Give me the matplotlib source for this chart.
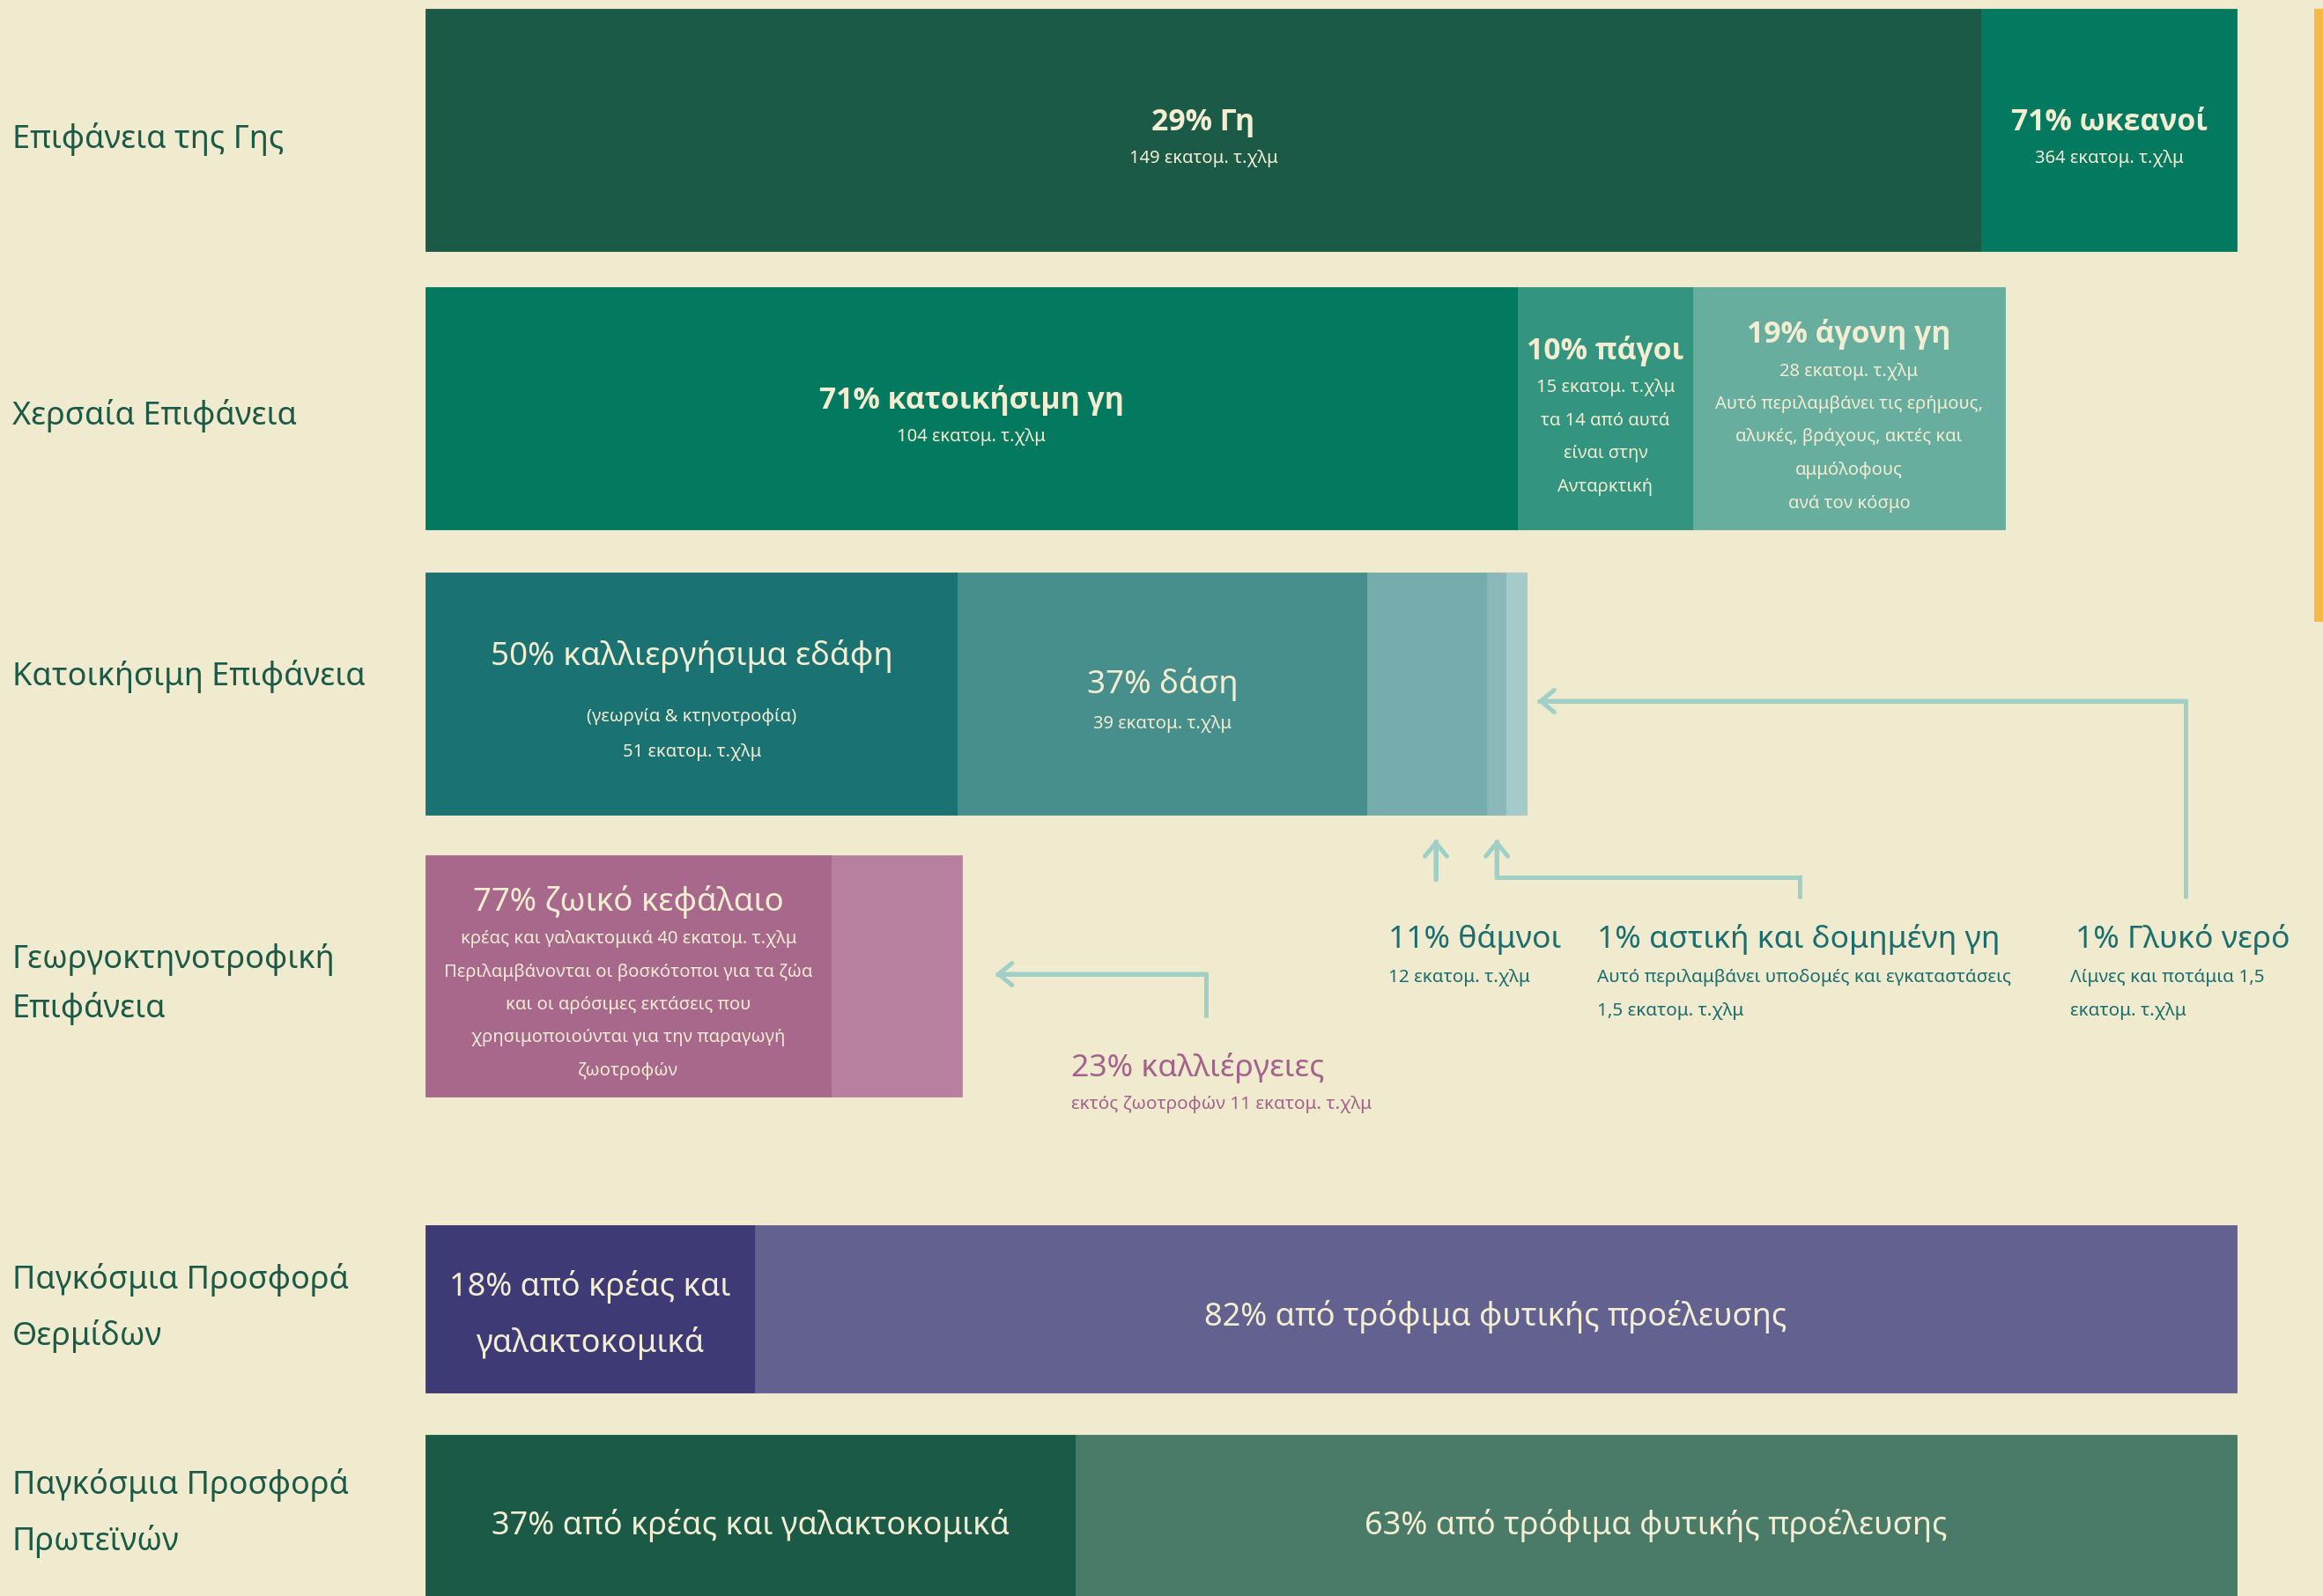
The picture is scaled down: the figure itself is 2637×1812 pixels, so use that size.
import matplotlib
matplotlib.use("Agg")
import matplotlib.pyplot as plt
from matplotlib.patches import Rectangle
import numpy as np

plt.rcParams['font.family'] = ['Noto Sans', 'DejaVu Sans']
BOLD_FAMILY = ['Open Sans', 'Roboto', 'DejaVu Sans']

# ---------------- data ----------------
row_labels = [["Επιφάνεια της Γης"], ["Χερσαία Επιφάνεια"], ["Κατοικήσιμη Επιφάνεια"],
              ["Γεωργοκτηνοτροφική", "Επιφάνεια"], ["Παγκόσμια Προσφορά", "Θερμίδων"],
              ["Παγκόσμια Προσφορά", "Πρωτεϊνών"]]

# drawn share of the full bar length (percent of full width)
earth_share = [85.9, 14.1]
earth_titles = ["29% Γη", "71% ωκεανοί"]
earth_notes = [["149 εκατομ. τ.χλμ"], ["364 εκατομ. τ.χλμ"]]

land_share = [60.3, 9.7, 17.2]
land_titles = ["71% κατοικήσιμη γη", "10% πάγοι", "19% άγονη γη"]
land_notes = [["104 εκατομ. τ.χλμ"],
              ["15 εκατομ. τ.χλμ", "τα 14 από αυτά", "είναι στην", "Ανταρκτική"],
              ["28 εκατομ. τ.χλμ", "Αυτό περιλαμβάνει τις ερήμους,", "αλυκές, βράχους, ακτές και",
               "αμμόλοφους", "ανά τον κόσμο"]]

habitable_share = [29.4, 22.6, 6.6, 1.1, 1.1]
habitable_titles = ["50% καλλιεργήσιμα εδάφη", "37% δάση", "11% θάμνοι",
                    "1% αστική και δομημένη γη", "1% Γλυκό νερό"]
habitable_notes = [["(γεωργία & κτηνοτροφία)", "51 εκατομ. τ.χλμ"], ["39 εκατομ. τ.χλμ"],
                   ["12 εκατομ. τ.χλμ"],
                   ["Αυτό περιλαμβάνει υποδομές και εγκαταστάσεις", "1,5 εκατομ. τ.χλμ"],
                   ["Λίμνες και ποτάμια 1,5", "εκατομ. τ.χλμ"]]

agri_share = [22.4, 7.2]
agri_titles = ["77% ζωικό κεφάλαιο", "23% καλλιέργειες"]
agri_notes = [["κρέας και γαλακτομικά 40 εκατομ. τ.χλμ", "Περιλαμβάνονται οι βοσκότοποι για τα ζώα",
               "και οι αρόσιμες εκτάσεις που", "χρησιμοποιούνται για την παραγωγή", "ζωοτροφών"],
              ["εκτός ζωοτροφών 11 εκατομ. τ.χλμ"]]

calorie_share = [18.2, 81.8]
calorie_titles = [["18% από κρέας και", "γαλακτοκομικά"], ["82% από τρόφιμα φυτικής προέλευσης"]]

protein_share = [35.9, 64.1]
protein_titles = [["37% από κρέας και γαλακτοκομικά"], ["63% από τρόφιμα φυτικής προέλευσης"]]

# ---------------- style / layout ----------------
BG = "#F0EBCE"
CREAM = "#F3EDD2"
LABEL_C = "#1B5A47"
TEAL_TXT = "#1C6E6E"
PURPLE_TXT = "#A4638C"
ARROW_C = "#A0CFC7"

earth_colors = ["#1B5A47", "#037A60"]
land_colors = ["#037A60", "#33957F", "#67AE9F"]
habitable_colors = ["#1A7372", "#468F8C", "#75ADAC", "#8BB8B8", "#A4CBCA"]
agri_colors = ["#A8688C", "#B8809F"]
calorie_colors = ["#3D3A75", "#636190"]
protein_colors = ["#1B5A46", "#4A7B69"]

W, H = 2637, 1812
BAR_L, BAR_R = 483, 2539
UNIT = (BAR_R - BAR_L) / 100.0
row_centers = [147.5, 463.5, 787.5, 1108, 1486, 1724]
row_heights = [275, 275, 275, 274, 190, 190]
DY = 3  # text baseline nudge (px)


def px(xp):
    return (xp - BAR_L) / UNIT


fig = plt.figure(figsize=(W / 100, H / 100), dpi=100)
fig.patch.set_facecolor(BG)
ax = fig.add_axes([0, 0, 1, 1])
ax.set_facecolor(BG)
ax.set_xlim(px(0), px(W))
ax.set_ylim(H, 0)
ax.axis('off')

shares = [earth_share, land_share, habitable_share, agri_share, calorie_share, protein_share]
colors = [earth_colors, land_colors, habitable_colors, agri_colors, calorie_colors, protein_colors]
lefts_all = []
for yc, h, sh, col in zip(row_centers, row_heights, shares, colors):
    sh = np.asarray(sh, dtype=float)
    lefts = np.concatenate([[0.0], np.cumsum(sh)[:-1]])
    lefts_all.append((lefts, sh))
    ax.barh(yc, sh, left=lefts, height=h, color=col, edgecolor=col, linewidth=0.6)


def seg_center(row, i):
    lefts, sh = lefts_all[row]
    return lefts[i] + sh[i] / 2


def block(xc, yc, title, notes, tsize=24, bold=True, nsize=14.5, gap=42, step=37.5,
          color=CREAM):
    span = (gap + step * (len(notes) - 1)) if notes else 0
    y0 = yc + 9 + DY - span / 2
    if bold:
        ax.text(xc, y0, title, ha='center', va='center', fontsize=tsize, fontweight='bold',
                family=BOLD_FAMILY, color=color)
    else:
        ax.text(xc, y0, title, ha='center', va='center', fontsize=tsize, color=color)
    for k, n in enumerate(notes):
        ax.text(xc, y0 + gap + k * step, n, ha='center', va='center', fontsize=nsize, color=color)


# row 1
for i in range(2):
    block(seg_center(0, i), row_centers[0], earth_titles[i], earth_notes[i], tsize=24.3)
# row 2
for i in range(3):
    block(seg_center(1, i), row_centers[1], land_titles[i], land_notes[i], tsize=24.3)
# row 3 (first two segments inside)
block(seg_center(2, 0), row_centers[2], habitable_titles[0], habitable_notes[0], tsize=26.5,
      bold=False, gap=69, step=39)
block(seg_center(2, 1), row_centers[2], habitable_titles[1], habitable_notes[1], tsize=26.5,
      bold=False, gap=44)
# row 4 (first segment inside)
block(seg_center(3, 0), row_centers[3], agri_titles[0], agri_notes[0], tsize=26.3,
      bold=False, nsize=14.6, gap=42, step=37.5)

# row 5 and 6 texts
ax.text(seg_center(4, 0), 1458 + DY, calorie_titles[0][0], ha='center', va='center', fontsize=26, color=CREAM)
ax.text(seg_center(4, 0), 1522 + DY, calorie_titles[0][1], ha='center', va='center', fontsize=26, color=CREAM)
ax.text(seg_center(4, 1), 1492 + DY, calorie_titles[1][0], ha='center', va='center', fontsize=26, color=CREAM)
ax.text(seg_center(5, 0), 1729 + DY, protein_titles[0][0], ha='center', va='center', fontsize=26, color=CREAM)
ax.text(seg_center(5, 1), 1729 + DY, protein_titles[1][0], ha='center', va='center', fontsize=26, color=CREAM)

# row labels
label_ys = [[155], [469], [765], [1086, 1142], [1450, 1514], [1683, 1747]]
for lines, ys in zip(row_labels, label_ys):
    for t, y in zip(lines, ys):
        ax.text(px(14), y + DY, t, ha='left', va='center', fontsize=26, color=LABEL_C)

# outside annotations for small segments
ann = [(2, 1576, 1576), (3, 1813, 1813), (4, 2356, 2350)]
for i, xl, xn in ann:
    ax.text(px(xl), 1063 + DY, habitable_titles[i], ha='left', va='center', fontsize=25.5, color=TEAL_TXT)
    for k, n in enumerate(habitable_notes[i]):
        ax.text(px(xn), 1107 + DY + k * 37.5, n, ha='left', va='center', fontsize=14.9, color=TEAL_TXT)
ax.text(px(1216), 1209 + DY, agri_titles[1], ha='left', va='center', fontsize=25.5, color=PURPLE_TXT)
ax.text(px(1216), 1251 + DY, agri_notes[1][0], ha='left', va='center', fontsize=14.9, color=PURPLE_TXT)

# arrows
LW = 3.6
bar3_bottom = row_centers[2] + row_heights[2] / 2
tip_y = bar3_bottom + 28
head = dict(arrowstyle='->,head_length=0.55,head_width=0.45', color=ARROW_C, lw=LW,
            shrinkA=0, shrinkB=0, mutation_scale=20)


def path_arrow(xs, ys):
    ax.plot(xs, ys, color=ARROW_C, lw=LW, solid_joinstyle='miter', solid_capstyle='butt')
    ax.annotate('', xy=(xs[-1], ys[-1]), xytext=(xs[-2], ys[-2]), arrowprops=head)


x_shrub = seg_center(2, 2) + px(1629) - px(1619)
path_arrow([x_shrub, x_shrub], [999, tip_y])
x_urban = seg_center(2, 3)
path_arrow([px(2043), px(2043), x_urban, x_urban], [1020, 996, 996, tip_y])
end3 = sum(habitable_share)
path_arrow([px(2481), px(2481), end3 + 12 / UNIT], [1020, 796, 796])
end4 = sum(agri_share)
path_arrow([px(1369), px(1369), end4 + 38 / UNIT], [1155, 1106, 1106])

# decorative stripe at right edge
ax.add_patch(Rectangle((px(2627), 10), px(2637) - px(2627), 696, color="#F6B946", lw=0))

fig.savefig("out.png", dpi=100, facecolor=BG)
